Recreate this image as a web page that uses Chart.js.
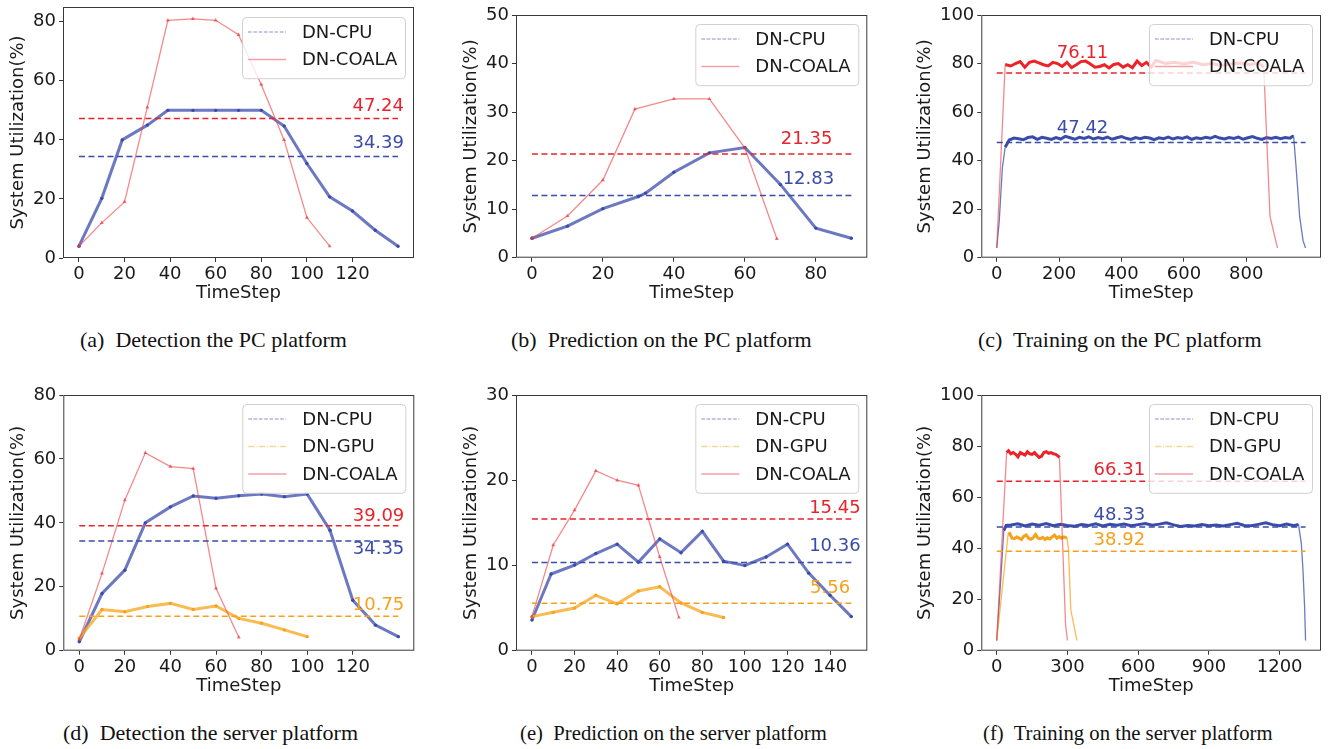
<!DOCTYPE html>
<html>
<head>
<meta charset="utf-8">
<script src="https://cdn.jsdelivr.net/npm/chart.js@4.4.1/dist/chart.umd.min.js"></script>
<style>
  body { margin: 0; background: #fff; width: 1329px; height: 749px; position: relative; overflow: hidden; }
  canvas { position: absolute; }
  .cap { position: absolute; font-family: 'Liberation Serif', 'Times New Roman', serif; font-size: 22px;
         line-height: 22px; color: #111; white-space: pre; }
  .cap.narrow { font-size: 20.7px; }
</style>
</head>
<body>
<canvas id="pa" width="443" height="320" style="left:0;top:0"></canvas>
<canvas id="pb" width="443" height="320" style="left:443px;top:0"></canvas>
<canvas id="pc" width="443" height="320" style="left:886px;top:0"></canvas>
<canvas id="pd" width="443" height="320" style="left:0;top:380px"></canvas>
<canvas id="pe" width="443" height="320" style="left:443px;top:380px"></canvas>
<canvas id="pf" width="443" height="320" style="left:886px;top:380px"></canvas>

<div class="cap" style="left:80px;top:329px">(a)  Detection the PC platform</div>
<div class="cap" style="left:511px;top:329px">(b)  Prediction on the PC platform</div>
<div class="cap" style="left:978px;top:329px">(c)  Training on the PC platform</div>
<div class="cap" style="left:63px;top:722px">(d)  Detection the server platform</div>
<div class="cap narrow" style="left:520px;top:722px">(e)  Prediction on the server platform</div>
<div class="cap narrow" style="left:983px;top:722px">(f)  Training on the server platform</div>

<script>
// ---- data: [timestep, utilization %] ----
// (a) detection, PC
const cpuA = [[0,4],[10,20.2],[19,40],[30,45],[39,50],[50,50],[60,50],[70,50],[80,50],[90,44.7],[100,32],[110,20.7],[120,15.9],[130,9.4],[140,4]];
const coalaA = [[0,4],[10,11.9],[20,19],[30,51],[39,80.5],[50,81],[60,80.5],[70,75.6],[80,58.7],[90,40],[100,13.7],[110,4]];
const meansA = { cpu: 34.39, coala: 47.24 };

// (b) prediction, PC
const cpuB = [[0,4],[10,6.5],[20,10.1],[30,12.6],[32,13.3],[40,17.6],[50,21.6],[60,22.7],[70,15.1],[80,6.1],[90,4]];
const coalaB = [[0,4],[10,8.6],[20,16],[29,30.6],[40,32.7],[50,32.7],[60,22.6],[69,3.9]];
const meansB = { cpu: 12.83, coala: 21.35 };

// (c) training, PC
const cpuC = [[0,4],[8,15],[18,37],[27,45.5],[40,48.5],[55,49.3],[70,49],[85,48.6],[100,49.5],[115,49.8],[130,48.8],
  [145,49.6],[160,49.2],[175,48.7],[190,49.5],[205,48.9],[220,50],[235,49.4],[250,48.8],[265,49.6],[280,49.1],
  [295,49.8],[310,48.9],[325,49.5],[340,49],[355,49.7],[370,48.8],[385,49.4],[400,49.9],[415,49.2],[430,48.7],
  [445,49.5],[460,49],[475,49.6],[490,49.3],[505,48.6],[520,49.4],[535,49],[550,49.7],[565,48.9],[580,49.5],
  [595,49.1],[610,49.8],[625,48.8],[640,49.4],[655,49],[670,49.6],[685,49.2],[700,50],[715,49.3],[730,48.9],
  [745,49.5],[760,49.1],[775,49.7],[790,48.8],[805,49.4],[820,49.9],[835,49.2],[850,48.7],[865,49.5],[880,49.1],
  [895,49.6],[910,49],[925,49.5],[940,49.2],[948,50],[952,49.8],[958,40],[965,28],[971,17],[982,7],[990,4]];
const coalaC = [[0,4],[27,79.5],[30,79.5],[45,79],[60,80],[75,80.8],[90,78.5],[105,80.5],[120,81],[135,80.3],
  [150,79.5],[165,79],[180,80.5],[195,80],[210,78.8],[225,80.5],[240,78.3],[255,79.5],[270,80.8],[285,81],
  [300,79.8],[315,78.5],[330,78.8],[345,79.5],[360,78.2],[375,79.6],[390,80],[405,78.5],[420,79.5],[435,78.3],
  [450,81],[465,79.2],[480,80.5],[495,78.5],[510,81.2],[540,80],[570,80.5],[600,79.8],[630,80.6],[660,79.5],
  [690,80],[720,79.2],[750,79.8],[780,80.2],[810,79.5],[840,80.3],[856,78.5],[876,17],[900,4]];
const meansC = { cpu: 47.42, coala: 76.11 };

// (d) detection, server
const cpuD = [[0,2.8],[10,17.9],[20,25.2],[29,40],[40,45],[50,48.4],[60,47.7],[70,48.5],[80,49],[90,48.2],[100,49],[110,37.7],[120,15.8],[130,8],[140,4.4]];
const gpuD = [[0,3.9],[10,12.9],[20,12.2],[30,13.8],[40,14.8],[50,12.9],[60,14],[70,10.1],[80,8.6],[90,6.5],[100,4.4]];
const coalaD = [[0,3.5],[10,24.2],[20,47.1],[29,61.9],[40,57.6],[50,57],[60,19.5],[70,4.2]];
const meansD = { cpu: 34.35, gpu: 10.75, coala: 39.09 };

// (e) prediction, server
const cpuE = [[0,3.6],[9,9],[20,10.05],[30,11.4],[40,12.5],[50,10.4],[60,13.1],[70,11.5],[80,14],[90,10.5],[100,10],[110,11],[120,12.5],[130,9.1],[140,6.5],[150,4]];
const gpuE = [[0,4],[10,4.5],[20,5],[30,6.5],[40,5.5],[50,7],[60,7.5],[70,5.6],[80,4.5],[90,3.9]];
const coalaE = [[0,4],[10,12.4],[20,16.5],[30,21.1],[40,20],[50,19.4],[60,11],[69,3.9]];
const meansE = { cpu: 10.36, gpu: 5.56, coala: 15.45 };

// (f) training, server
const cpuF = [[0,4],[15,25],[30,47],[40,49],[60,49.2],[90,49.6],[120,48.8],[150,49.5],[180,49.1],[210,49.7],[240,48.9],
  [270,49.4],[300,49],[330,48.7],[360,49.3],[390,49],[420,49.6],[450,48.8],[480,49.4],[510,49.1],[540,49.5],
  [570,48.9],[600,49.3],[630,49.7],[660,49.1],[690,49.5],[720,50],[750,49.2],[780,48.6],[810,49],[840,48.8],
  [870,49.3],[900,48.9],[930,49.2],[960,48.8],[990,49.3],[1020,49.8],[1050,49],[1080,48.9],[1110,49.4],[1140,50],
  [1170,49.3],[1200,48.9],[1230,49.5],[1260,48.9],[1280,49.4],[1292,42],[1299,31.6],[1306,17],[1310,4]];
const gpuF = [[0,4],[48,45.5],[55,45.8],[65,44],[75,43.8],[85,44.5],[95,44],[105,43.5],[115,44.8],[125,45.3],
  [135,44],[145,43.6],[155,44.2],[165,45.5],[175,44],[185,43.8],[195,44.3],[205,43.5],[215,44.2],[225,43.7],
  [235,44.5],[245,45.2],[255,44],[265,44.6],[275,44],[285,44.5],[298,44],[304,40],[314,16],[340,4]];
const coalaF = [[0,4],[42,77.5],[50,78.2],[60,77],[70,77.5],[80,76.8],[90,75.8],[100,77.5],[110,77],[120,76.5],
  [130,77.8],[140,77],[150,76.8],[160,77.5],[170,76.5],[180,75.6],[190,76],[200,77.5],[210,77.8],[220,77.2],
  [230,77.5],[240,77],[250,76.8],[262,76],[266,75.5],[292,10],[300,4]];
const meansF = { cpu: 48.33, gpu: 38.92, coala: 66.31 };

// ---- ticks ----
const xTicksA = [0, 20, 40, 60, 80, 100, 120];
const xTicksB = [0, 20, 40, 60, 80];
const xTicksC = [0, 200, 400, 600, 800];
const xTicksE = [0, 20, 40, 60, 80, 100, 120, 140];
const xTicksF = [0, 300, 600, 900, 1200];
const yTicks80 = [0, 20, 40, 60, 80];
const yTicks50 = [0, 10, 20, 30, 40, 50];
const yTicks100 = [0, 20, 40, 60, 80, 100];
const yTicks30 = [0, 10, 20, 30];

const FONT = "'DejaVu Sans', Verdana, sans-serif";
const INK = '#1a1a1a';
const COLORS = {
  cpu:   { line: 'rgba(66,82,174,0.78)', flat: '#3a4ca9', mean: '#3b4ba8', legend: '#b1b6df', dash: [3.7, 1.6] },
  gpu:   { line: 'rgba(248,170,40,0.8)', flat: '#f6a31c', mean: '#f4a21c', legend: '#f6d892', dash: [6.4, 1.6, 1, 1.6] },
  coala: { line: 'rgba(238,64,70,0.62)', flat: '#eb2327', mean: '#e8232b', legend: '#f1a1a7', dash: [] }
};
const NAMES = { cpu: 'DN-CPU', gpu: 'DN-GPU', coala: 'DN-COALA' };
const ORDER = { cpu: 4, gpu: 3, coala: 2 };

function toXY(pts) { return pts.map(p => ({ x: p[0], y: p[1] })); }

function buildPanel(id, p) {
  const W = 443, H = 320;
  const [L, T, R, B] = p.box;
  const keys = Object.keys(p.series);
  const datasets = [];

  keys.forEach(k => {
    const c = COLORS[k];
    const isCoala = k === 'coala';
    const ds = {
      data: toXY(p.series[k]),
      borderColor: c.line,
      borderWidth: isCoala ? 1.3 : 3,
      pointRadius: p.dense ? 0 : (isCoala ? 2.3 : 1.7),
      pointStyle: isCoala ? 'triangle' : 'circle',
      pointBackgroundColor: isCoala ? 'rgba(235,55,60,0.7)' : c.flat,
      pointBorderWidth: 0,
      tension: 0,
      fill: false,
      order: ORDER[k]
    };
    if (p.dense) {
      const steep = s => Math.abs(s.p1.y - s.p0.y) > 2.5 * Math.abs(s.p1.x - s.p0.x);
      ds.segment = {
        borderWidth: s => steep(s) ? 1.3 : 3,
        borderColor: s => steep(s) ? c.line : c.flat
      };
    }
    datasets.push(ds);
  });

  keys.forEach(k => {
    const m = p.means[k];
    datasets.push({
      data: [{ x: 0, y: m }, { x: p.meanEnd, y: m }],
      borderColor: COLORS[k].mean,
      borderWidth: 1.5,
      borderDash: [6, 3.5],
      pointRadius: 0,
      order: 1
    });
  });

  const decor = {
    id: 'decor',
    afterDatasetsDraw(chart) {
      const { ctx, chartArea: a, scales: { x, y } } = chart;
      ctx.save();
      ctx.font = '18px ' + FONT;
      ctx.textAlign = 'center';
      ctx.textBaseline = 'middle';
      p.labels.forEach(l => {
        const m = p.means[l.key];
        ctx.fillStyle = COLORS[l.key].mean;
        ctx.fillText(m.toFixed(2), x.getPixelForValue(l.x), y.getPixelForValue(m) + l.dy);
      });
      ctx.strokeStyle = '#3a3a3a';
      ctx.lineWidth = 1;
      ctx.strokeRect(a.left + 0.5, a.top + 0.5, a.right - a.left - 1, a.bottom - a.top - 1);
      ctx.restore();
    },
    afterDraw(chart) {
      // legend, drawn last like matplotlib's
      const { ctx, chartArea: a } = chart;
      const n = keys.length;
      const bw = 163, bh = 6 + 27.6 * n;
      const bx = a.right - 9 - bw, by = a.top + p.legendTop;
      ctx.save();
      ctx.beginPath();
      if (ctx.roundRect) ctx.roundRect(bx + 0.5, by + 0.5, bw, bh, 4); else ctx.rect(bx + 0.5, by + 0.5, bw, bh);
      ctx.fillStyle = 'rgba(255,255,255,0.8)';
      ctx.fill();
      ctx.strokeStyle = 'rgba(204,204,204,0.9)';
      ctx.lineWidth = 1;
      ctx.stroke();
      ctx.font = '18px ' + FONT;
      ctx.textAlign = 'left';
      ctx.textBaseline = 'middle';
      keys.forEach((k, i) => {
        const cy = by + 15 + i * 27.5;
        ctx.beginPath();
        ctx.setLineDash(COLORS[k].dash);
        ctx.strokeStyle = COLORS[k].legend;
        ctx.lineWidth = 1.5;
        ctx.moveTo(bx + 6, cy);
        ctx.lineTo(bx + 44, cy);
        ctx.stroke();
        ctx.setLineDash([]);
        ctx.fillStyle = INK;
        ctx.fillText(NAMES[k], bx + 60, cy + 1);
      });
      ctx.restore();
    }
  };

  const tickFont = { family: FONT, size: 18 };
  new Chart(document.getElementById(id), {
    type: 'line',
    data: { datasets },
    plugins: [decor],
    options: {
      responsive: false,
      animation: false,
      events: [],
      devicePixelRatio: 1,
      layout: { padding: { left: 0, top: T, right: W - R, bottom: 0 } },
      plugins: { legend: { display: false }, tooltip: { enabled: false } },
      scales: {
        x: {
          type: 'linear',
          min: p.xRange[0],
          max: p.xRange[1],
          afterBuildTicks: s => { s.ticks = p.xTicks.map(v => ({ value: v })); },
          afterFit: s => { s.height = H - B; s.paddingLeft = 0; s.paddingRight = 0; },
          grid: { display: true, drawOnChartArea: false, drawTicks: true, tickLength: 4, color: '#333' },
          border: { display: false },
          ticks: { autoSkip: false, maxRotation: 0, padding: 2, color: INK, font: tickFont, callback: v => String(v) },
          title: { display: true, text: 'TimeStep', color: INK, font: tickFont, padding: { top: 0, bottom: p.xTitlePad } }
        },
        y: {
          type: 'linear',
          min: 0,
          max: p.yMax,
          afterBuildTicks: s => { s.ticks = p.yTicks.map(v => ({ value: v })); },
          afterFit: s => { s.width = L; s.paddingTop = 0; s.paddingBottom = 0; },
          grid: { display: true, drawOnChartArea: false, drawTicks: true, tickLength: 4, color: '#333' },
          border: { display: false },
          ticks: { autoSkip: false, padding: 3, color: INK, font: tickFont, callback: v => String(v) },
          title: { display: true, text: 'System Utilization(%)', color: INK, font: tickFont, padding: { top: p.yTitlePad, bottom: 0 } }
        }
      }
    }
  });
}

buildPanel('pa', {
  box: [63, 7, 414, 258], xRange: [-7, 147], xTicks: xTicksA, yMax: 85, yTicks: yTicks80,
  series: { cpu: cpuA, coala: coalaA }, means: meansA, meanEnd: 140, dense: false,
  labels: [{ key: 'coala', x: 131.3, dy: -12 }, { key: 'cpu', x: 131.3, dy: -13 }],
  legendTop: 10, xTitlePad: 16.2, yTitlePad: 7.2
});
buildPanel('pb', {
  box: [73, 15, 424.3, 257.7], xRange: [-4.5, 94.5], xTicks: xTicksB, yMax: 50, yTicks: yTicks50,
  series: { cpu: cpuB, coala: coalaB }, means: meansB, meanEnd: 90, dense: false,
  labels: [{ key: 'coala', x: 77.4, dy: -15 }, { key: 'cpu', x: 77.9, dy: -16 }],
  legendTop: 9, xTitlePad: 16.2, yTitlePad: 17.5
});
buildPanel('pc', {
  box: [95.3, 15, 435, 257.7], xRange: [-49.5, 1039.5], xTicks: xTicksC, yMax: 100, yTicks: yTicks100,
  series: { cpu: cpuC, coala: coalaC }, means: meansC, meanEnd: 990, dense: true,
  labels: [{ key: 'coala', x: 275, dy: -20 }, { key: 'cpu', x: 275, dy: -14 }],
  legendTop: 9, xTitlePad: 16.2, yTitlePad: 28.5
});
buildPanel('pd', {
  box: [63.3, 15, 414.3, 270.7], xRange: [-7, 147], xTicks: xTicksA, yMax: 80, yTicks: yTicks80,
  series: { cpu: cpuD, gpu: gpuD, coala: coalaD }, means: meansD, meanEnd: 140, dense: false,
  labels: [{ key: 'coala', x: 131.3, dy: -9 }, { key: 'cpu', x: 131.3, dy: 8.5 }, { key: 'gpu', x: 131.3, dy: -11 }],
  legendTop: 9, xTitlePad: 2.5, yTitlePad: 7.5
});
buildPanel('pe', {
  box: [73, 15, 424.3, 270.7], xRange: [-7.5, 157.5], xTicks: xTicksE, yMax: 30, yTicks: yTicks30,
  series: { cpu: cpuE, gpu: gpuE, coala: coalaE }, means: meansE, meanEnd: 150, dense: false,
  labels: [{ key: 'coala', x: 142.3, dy: -11 }, { key: 'cpu', x: 142.3, dy: -15.7 }, { key: 'gpu', x: 140, dy: -15 }],
  legendTop: 9, xTitlePad: 2.5, yTitlePad: 17.5
});
buildPanel('pf', {
  box: [95.3, 15, 435, 270.7], xRange: [-65.5, 1375.5], xTicks: xTicksF, yMax: 100, yTicks: yTicks100,
  series: { cpu: cpuF, gpu: gpuF, coala: coalaF }, means: meansF, meanEnd: 1310, dense: true,
  labels: [{ key: 'coala', x: 520, dy: -10.4 }, { key: 'cpu', x: 520, dy: -12 }, { key: 'gpu', x: 520, dy: -11 }],
  legendTop: 9, xTitlePad: 2.5, yTitlePad: 28.5
});
</script>
</body>
</html>
